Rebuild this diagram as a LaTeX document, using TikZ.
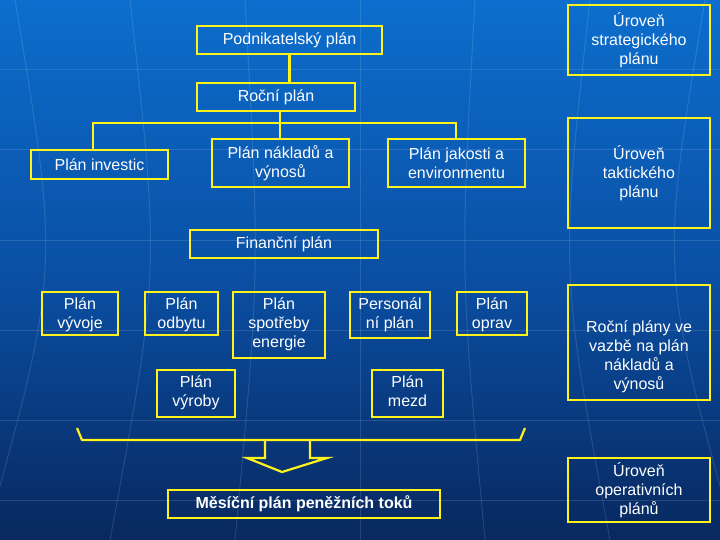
\documentclass[tikz,border=0pt]{standalone}
\usepackage{fontspec}
\setmainfont{Liberation Sans}
\begin{document}
\begin{tikzpicture}[x=1pt,y=-1pt,
  bx/.style={draw=yellow!90!white,line width=2.2pt,fill=none},
  tx/.style={text=white,align=center,font=\fontsize{16}{19}\selectfont,inner sep=0pt},
  ln/.style={draw=yellow!90!white,line width=2.2pt}]
\shade[top color={rgb,255:red,12;green,110;blue,205},bottom color={rgb,255:red,8;green,40;blue,95},middle color={rgb,255:red,10;green,80;blue,165}] (0,0) rectangle (720,540);
\useasboundingbox (0,0) rectangle (720,540);
% faint globe grid
\foreach \yy in {70,150,240,330,420,500} \draw[white,opacity=0.12,line width=1pt] (0,\yy) -- (720,\yy);
\foreach \xx in {-300,-200,-100,0,100,200,300} \draw[white,opacity=0.12,line width=1pt] (360+\xx*1.15,0) .. controls (360+\xx*1.0,270) .. (360+\xx*1.25,540);
% boxes
\newcommand{\bxx}[6]{\draw[bx] (#2,#3) rectangle (#4,#5); \node[tx] (#1) at ({(#2+#4)/2},{(#3+#5)/2}) {#6};}
\newcommand{\bxt}[6]{\draw[bx] (#2,#3) rectangle (#4,#5); \node[tx,anchor=north] (#1) at ({(#2+#4)/2},{#3+6}) {#6};}
\bxx{pod}{197}{26}{382}{54}{Podnikatelský plán}
\bxx{us}{568}{5}{710}{75}{Úroveň\\strategického\\plánu}
\bxx{roc}{197}{83}{355}{111}{Roční plán}
\bxx{inv}{31}{150}{168}{179}{Plán investic}
\bxx{nak}{212}{139}{349}{187}{Plán nákladů a\\výnosů}
\bxx{jak}{388}{139}{525}{187}{Plán jakosti a\\environmentu}
\bxx{ut}{568}{118}{710}{228}{Úroveň\\taktického\\plánu}
\bxx{fin}{190}{230}{378}{258}{Finanční plán}
\bxt{vyv}{42}{292}{118}{335}{Plán\\vývoje}
\bxt{odb}{145}{292}{218}{335}{Plán\\odbytu}
\bxt{spo}{233}{292}{325}{358}{Plán\\spotřeby\\energie}
\bxt{per}{350}{292}{430}{338}{Personál\\ní plán}
\bxt{opr}{457}{292}{527}{335}{Plán\\oprav}
\bxt{vyr}{157}{370}{235}{417}{Plán\\výroby}
\bxt{mez}{372}{370}{443}{417}{Plán\\mezd}
\draw[bx] (568,285) rectangle (710,400);
\node[tx] (rp) at (639,357) {Roční plány ve\\vazbě na plán\\nákladů a\\výnosů};
\bxx{uo}{568}{458}{710}{522}{Úroveň\\operativních\\plánů}
\bxx{mes}{168}{490}{440}{518}{\textbf{Měsíční plán peněžních toků}}
% connectors
\draw[ln] (pod.south |- 54,54) -- (pod.south |- 0,83);
\coordinate (j) at (280,123);
\draw[ln] (280,111) -- (j);
\draw[ln] (93,150) -- (93,123) -- (456,123) -- (456,139);
\draw[ln] (j) -- (280,139);
% bracket and arrow
\draw[ln,line join=round] (77,428) -- (82,440) -- (520,440) -- (525,428);
\draw[ln,line join=miter] (265,440) -- (265,458) -- (247,458) -- (282,472) -- (327,458) -- (310,458) -- (310,440);
\end{tikzpicture}
\end{document}
